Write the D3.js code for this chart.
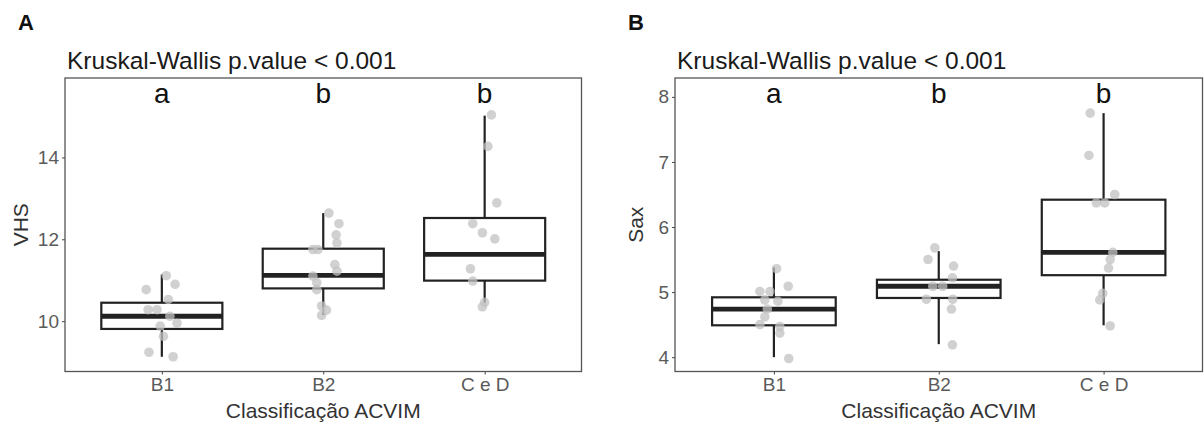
<!DOCTYPE html>
<html><head><meta charset="utf-8">
<script src="https://cdn.jsdelivr.net/npm/d3@7"></script>
<style>body{margin:0;background:#fff}svg{display:block}text{font-family:"Liberation Sans",Arial,sans-serif}</style>
</head><body>
<svg id="chart" width="1204" height="423"></svg>
<script>
// ---- data ----
const categories = ["B1", "B2", "C e D"];
const letters = ["a", "b", "b"];
const titleText = "Kruskal-Wallis p.value < 0.001";
const xTitle = "Classificação ACVIM";

// box stats per category: [lower whisker, q1, median, q3, upper whisker]
const vhsStats = [[9.13, 9.81, 10.12, 10.45, 11.14], [10.15, 10.80, 11.12, 11.77, 12.64], [10.45, 10.99, 11.63, 12.52, 15.02]];
const saxStats = [[4.00, 4.49, 4.74, 4.92, 5.38], [4.20, 4.91, 5.09, 5.19, 5.63], [4.49, 5.26, 5.61, 6.42, 7.75]];

// observations: [category index, jitter (category units), value]
const vhsPoints = [
  [0,-0.097,10.77],[0,0.082,10.90],[0,0.027,11.11],[0,0.04,10.53],[0,-0.085,10.28],[0,-0.03,10.28],
  [0,0.05,10.12],[0,0.094,9.95],[0,-0.01,9.88],[0,0.01,9.63],[0,-0.08,9.24],[0,0.07,9.13],
  [1,0.035,12.64],[1,0.097,12.38],[1,0.08,12.11],[1,0.085,11.91],[1,-0.064,11.75],[1,-0.033,11.75],
  [1,0.072,11.38],[1,0.085,11.22],[1,-0.064,11.10],[1,-0.04,10.94],[1,-0.04,10.77],[1,-0.01,10.37],
  [1,0.02,10.27],[1,-0.01,10.14],
  [2,0.042,15.04],[2,0.02,14.27],[2,0.075,12.89],[2,-0.074,12.38],[2,-0.014,12.16],[2,0.063,12.01],
  [2,-0.088,11.28],[2,-0.074,10.98],[2,0,10.46],[2,-0.014,10.35]
];
const saxPoints = [
  [0,0.016,5.36],[0,0.087,5.09],[0,-0.085,5.01],[0,-0.024,5.01],[0,-0.055,4.88],[0,0.024,4.86],
  [0,-0.04,4.74],[0,-0.055,4.62],[0,-0.085,4.50],[0,0.036,4.47],[0,0.036,4.37],[0,0.09,3.98],
  [1,-0.024,5.68],[1,-0.065,5.50],[1,0.09,5.40],[1,0.083,5.22],[1,-0.036,5.09],[1,0.024,5.09],
  [1,-0.075,4.89],[1,0.085,4.89],[1,0.077,4.74],[1,0.083,4.19],
  [2,-0.081,7.75],[2,-0.089,7.10],[2,0.068,6.50],[2,-0.044,6.37],[2,0.007,6.37],[2,0.056,5.61],
  [2,0.04,5.50],[2,0.03,5.37],[2,-0.005,4.98],[2,-0.023,4.88],[2,0.04,4.48]
];
const vhsTicks = [10, 12, 14];
const saxTicks = [4, 5, 6, 7, 8];

// ---- drawing ----
const svg = d3.select("#chart");
const FONT = '"Liberation Sans",Arial,sans-serif';

function panel(opt) {
  const {left, right, top, bottom, domain, ticks, stats, points, yTitle, tag, tagX, yTitleX} = opt;
  const g = svg.append("g");
  const x = d3.scalePoint().domain(categories).range([left, right]).padding(0.6);
  const y = d3.scaleLinear().domain(domain).range([bottom, top]);
  const step = x.step();
  const bw = step * 0.75;

  // tag + title
  g.append("text").attr("x", tagX).attr("y", 30).attr("font-size", 22).attr("font-weight", "bold")
    .attr("fill", "#111").text(tag);
  g.append("text").attr("x", left + 2).attr("y", 69).attr("font-size", 24.5).attr("fill", "#1a1a1a").text(titleText);

  // boxes
  const bx = g.append("g");
  stats.forEach((s, i) => {
    const cx = x(categories[i]);
    bx.append("line").attr("x1", cx).attr("x2", cx).attr("y1", y(s[0])).attr("y2", y(s[1]))
      .attr("stroke", "#222").attr("stroke-width", 2.2);
    bx.append("line").attr("x1", cx).attr("x2", cx).attr("y1", y(s[3])).attr("y2", y(s[4]))
      .attr("stroke", "#222").attr("stroke-width", 2.2);
    bx.append("rect").attr("x", cx - bw / 2).attr("y", y(s[3])).attr("width", bw).attr("height", y(s[1]) - y(s[3]))
      .attr("fill", "#fff").attr("stroke", "#222").attr("stroke-width", 2.2);
    bx.append("line").attr("x1", cx - bw / 2).attr("x2", cx + bw / 2).attr("y1", y(s[2])).attr("y2", y(s[2]))
      .attr("stroke", "#222").attr("stroke-width", 4.8);
  });

  // points
  g.append("g").selectAll("circle").data(points).join("circle")
    .attr("cx", d => x(categories[d[0]]) + d[1] * step)
    .attr("cy", d => y(d[2]))
    .attr("r", 4.8)
    .attr("fill", "#c2c2c2").attr("fill-opacity", 0.75);

  // letters
  g.append("g").selectAll("text").data(letters).join("text")
    .attr("x", (d, i) => x(categories[i])).attr("y", 103)
    .attr("text-anchor", "middle").attr("font-size", 28).attr("fill", "#111").text(d => d);

  // axes
  const yAxis = d3.axisLeft(y).tickValues(ticks).tickFormat(d3.format("d")).tickSize(3).tickPadding(3);
  const ya = g.append("g").attr("transform", `translate(${left},0)`).call(yAxis);
  ya.select(".domain").remove();
  ya.selectAll(".tick line").attr("stroke", "#444");
  ya.selectAll(".tick text").attr("font-size", 19).attr("fill", "#5a5a5a").attr("font-family", FONT);

  const xAxis = d3.axisBottom(x).tickSize(3).tickPadding(3);
  const xa = g.append("g").attr("transform", `translate(0,${bottom})`).call(xAxis);
  xa.select(".domain").remove();
  xa.selectAll(".tick line").attr("stroke", "#444");
  xa.selectAll(".tick text").attr("font-size", 19).attr("fill", "#5a5a5a").attr("font-family", FONT);

  // panel border
  g.append("rect").attr("x", left).attr("y", top).attr("width", right - left).attr("height", bottom - top)
    .attr("fill", "none").attr("stroke", "#555").attr("stroke-width", 1.3);

  // axis titles
  g.append("text").attr("x", (left + right) / 2).attr("y", 418).attr("text-anchor", "middle")
    .attr("font-size", 21).attr("fill", "#333").text(xTitle);
  g.append("text").attr("transform", `translate(${yTitleX},${(top + bottom) / 2}) rotate(-90)`)
    .attr("text-anchor", "middle").attr("font-size", 21).attr("fill", "#333").text(yTitle);
}

panel({left: 65, right: 581.5, top: 78, bottom: 371.5, domain: [8.77, 15.94], ticks: vhsTicks,
  stats: vhsStats, points: vhsPoints, yTitle: "VHS", tag: "A", tagX: 18, yTitleX: 28});
panel({left: 675, right: 1202.5, top: 78, bottom: 371.5, domain: [3.78, 8.29], ticks: saxTicks,
  stats: saxStats, points: saxPoints, yTitle: "Sax", tag: "B", tagX: 628, yTitleX: 643});
</script>
</body></html>
